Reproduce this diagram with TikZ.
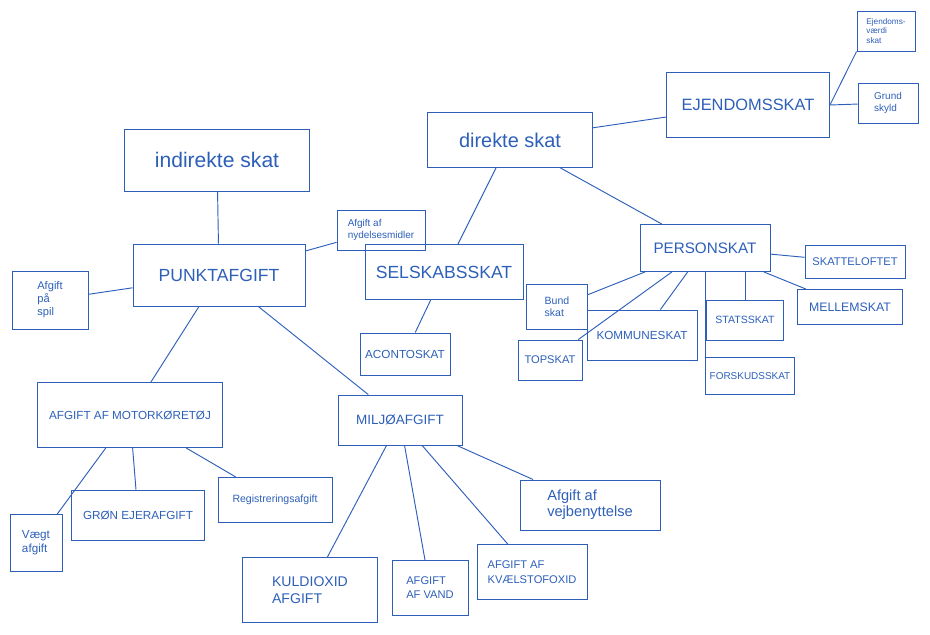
\documentclass[tikz,border=0pt]{standalone}
\usepackage{fontspec}
\setmainfont{Liberation Sans}
\definecolor{ink}{RGB}{45,95,185}
\newcommand{\handsize}[2]{\fontsize{#1pt}{#2pt}\selectfont}
\tikzset{
  taxbox/.style={draw=ink, text=ink, line width=0.8pt, inner sep=1pt, align=center},
  link/.style={draw=ink, line width=0.8pt}
}
\begin{document}
\begin{tikzpicture}
      \useasboundingbox (0, 0) rectangle (27.9, -19.05);

      %%%%%%%%%%%%%%%%%%%%%%%%%%%%%%%%%%%%%%%%%%%%%%%%%%%%%%%%%%%%%%
      % Indirekte skat
      %%%%%%%%%%%%%%%%%%%%%%%%%%%%%%%%%%%%%%%%%%%%%%%%%%%%%%%%%%%%%%
      \draw (6.51, -4.8) node [taxbox, font=\handsize{18}{20}, minimum width=5.55cm, minimum height=1.86cm] (indirekte) {indirekte skat};
      \draw (6.57, -8.25) node [taxbox, font=\handsize{15}{17}, minimum width=5.16cm, minimum height=1.86cm] (punkt) {PUNKTAFGIFT};
      \draw [link] (indirekte) -- (punkt);
      \draw (1.5, -9.0) node [taxbox, font=\handsize{9.5}{11}, align=left, minimum width=2.28cm, minimum height=1.74cm] (spil) {Afgift\\på\\spil};
      \draw [link] (punkt) -- (spil);
      \draw (11.43, -6.9) node [taxbox, font=\handsize{8.5}{10}, align=left, minimum width=2.64cm, minimum height=1.2cm] (nydelse) {Afgift af\\nydelsesmidler};
      \draw [link] (punkt) -- (nydelse);

      \draw (3.9, -12.45) node [taxbox, font=\handsize{10}{12}, minimum width=5.55cm, minimum height=1.95cm] (motor) {AFGIFT AF MOTORKØRETØJ};
      \draw [link] (punkt) -- (motor);
      \draw (1.08, -16.29) node [taxbox, font=\handsize{10}{12}, align=left, minimum width=1.56cm, minimum height=1.71cm] (vaegt) {Vægt\\afgift};
      \draw (4.14, -15.45) node [taxbox, font=\handsize{10}{12}, minimum width=4.0cm, minimum height=1.5cm] (groen) {GRØN EJERAFGIFT};
      \draw (8.25, -15.0) node [taxbox, font=\handsize{9}{11}, minimum width=3.42cm, minimum height=1.35cm] (registrering) {Registreringsafgift};
      \draw [link] (motor) -- (vaegt);
      \draw [link] (motor) -- (groen);
      \draw [link] (motor) -- (registrering);

      \draw (12.0, -12.6) node [taxbox, font=\handsize{11.5}{13}, minimum width=3.72cm, minimum height=1.5cm] (miljoe) {MILJØAFGIFT};
      \draw [link] (punkt) -- (miljoe);
      \draw (9.3, -17.7) node [taxbox, font=\handsize{12}{15}, align=left, minimum width=4.05cm, minimum height=1.95cm] (kuldioxid) {KULDIOXID\\AFGIFT};
      \draw (12.9, -17.64) node [taxbox, font=\handsize{9.5}{12}, align=left, minimum width=2.28cm, minimum height=1.65cm] (vand) {AFGIFT\\AF VAND};
      \draw (15.96, -17.16) node [taxbox, font=\handsize{9.5}{13}, align=left, minimum width=3.3cm, minimum height=1.65cm] (kvaelstof) {AFGIFT AF\\KVÆLSTOFOXID};
      \draw (17.7, -15.15) node [taxbox, font=\handsize{12.5}{14}, align=left, minimum width=4.2cm, minimum height=1.5cm] (vej) {Afgift af\\vejbenyttelse};
      \draw [link] (miljoe) -- (kuldioxid);
      \draw [link] (miljoe) -- (vand);
      \draw [link] (miljoe) -- (kvaelstof);
      \draw [link] (miljoe) -- (vej);

      %%%%%%%%%%%%%%%%%%%%%%%%%%%%%%%%%%%%%%%%%%%%%%%%%%%%%%%%%%%%%%
      % Direkte skat
      %%%%%%%%%%%%%%%%%%%%%%%%%%%%%%%%%%%%%%%%%%%%%%%%%%%%%%%%%%%%%%
      \draw (15.3, -4.2) node [taxbox, font=\handsize{17}{19}, minimum width=4.95cm, minimum height=1.65cm] (direkte) {direkte skat};

      \draw (13.32, -8.16) node [taxbox, font=\handsize{15}{17}, minimum width=4.74cm, minimum height=1.65cm] (selskab) {SELSKABSSKAT};
      \draw [link] (direkte) -- (selskab);
      \draw (12.15, -10.62) node [taxbox, font=\handsize{10}{12}, minimum width=2.7cm, minimum height=1.26cm] (aconto) {ACONTOSKAT};
      \draw [link] (selskab) -- (aconto);

      \draw (22.44, -3.15) node [taxbox, font=\handsize{14}{16}, minimum width=4.89cm, minimum height=1.95cm] (ejendom) {EJENDOMSSKAT};
      \draw [link] (direkte) -- (ejendom);
      \draw (26.58, -0.93) node [taxbox, font=\handsize{7}{8}, align=left, minimum width=1.74cm, minimum height=1.2cm] (ejvaerdi) {Ejendoms-\\værdi\\skat};
      \draw (26.64, -3.09) node [taxbox, font=\handsize{8.5}{10}, align=left, minimum width=1.8cm, minimum height=1.2cm] (grund) {Grund\\skyld};
      \draw [link] (ejendom.east) -- (ejvaerdi.south west);
      \draw [link] (ejendom.east) -- (grund);

      \draw (21.15, -7.44) node [taxbox, font=\handsize{13}{15}, minimum width=3.9cm, minimum height=1.41cm] (person) {PERSONSKAT};
      \draw [link] (direkte) -- (person);
      \draw (25.65, -7.86) node [taxbox, font=\handsize{9.5}{11}, minimum width=3.0cm, minimum height=1.0cm] (loft) {SKATTELOFTET};
      \draw (25.5, -9.21) node [taxbox, font=\handsize{10.5}{12}, minimum width=3.15cm, minimum height=1.05cm] (mellem) {MELLEMSKAT};
      \draw (16.71, -9.21) node [taxbox, font=\handsize{9}{10.5}, align=left, minimum width=1.83cm, minimum height=1.35cm] (bund) {Bund\\skat};
      \draw (16.5, -10.8) node [taxbox, font=\handsize{9.5}{11}, minimum width=1.92cm, minimum height=1.2cm] (top) {TOPSKAT};
      \draw (19.26, -10.05) node [taxbox, font=\handsize{10}{12}, minimum width=3.3cm, minimum height=1.5cm] (kommune) {KOMMUNESKAT};
      \draw (22.35, -9.6) node [taxbox, font=\handsize{9}{11}, minimum width=2.31cm, minimum height=1.2cm] (stats) {STATSSKAT};
      \draw (22.5, -11.28) node [taxbox, font=\handsize{8.5}{10}, minimum width=2.67cm, minimum height=1.11cm] (forskud) {FORSKUDSSKAT};
      \draw [link] (person) -- (loft);
      \draw [link] (person) -- (mellem);
      \draw [link] (person) -- (bund);
      \draw [link] (person) -- (top);
      \draw [link] (person) -- (kommune);
      \draw [link] (person.south -| stats.north) -- (stats.north);
      \draw [link] (person.south -| forskud.west) -- (forskud.west);
    \end{tikzpicture}
\end{document}
